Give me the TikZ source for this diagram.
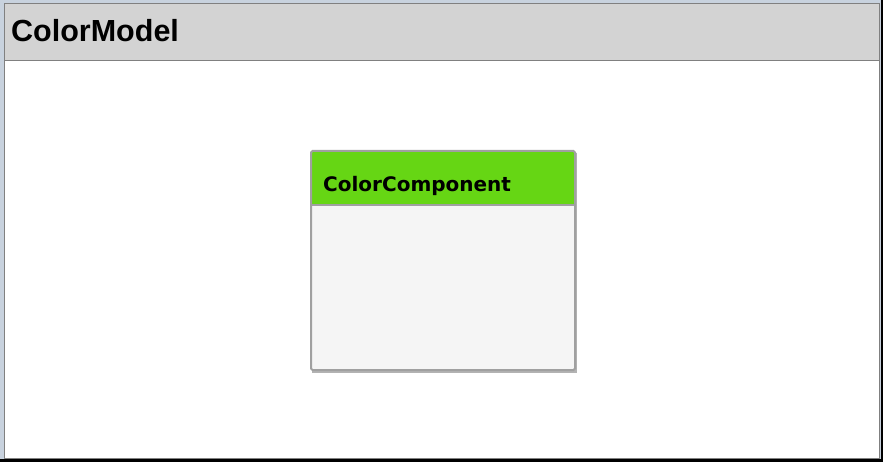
\documentclass[tikz,border=0pt]{standalone}
\usepackage{fontspec}
\setmainfont{Liberation Sans}
\newfontfamily\classfont{DejaVu Sans}
\definecolor{frameblue}{RGB}{200,210,222}
\definecolor{headgray}{RGB}{211,211,211}
\definecolor{linegray}{RGB}{160,160,160}
\definecolor{classgreen}{RGB}{102,214,20}
\definecolor{bodygray}{RGB}{245,245,245}
\tikzset{
  pkgtitle/.style={anchor=base west,inner sep=0pt,font=\fontsize{30.5}{32}\selectfont\bfseries},
  classtitle/.style={anchor=base west,inner sep=0pt,font=\classfont\fontsize{20}{22}\selectfont\bfseries},
  classline/.style={draw=linegray,line width=2pt}
}
\begin{document}
\begin{tikzpicture}[x=1pt,y=-1pt]
	\useasboundingbox (0,0) rectangle (883,462);
	\fill[black] (0,0) rectangle (883,462);
	\fill[frameblue] (0,0) rectangle (881,459);
	% package panel
	\filldraw[fill=white,draw=gray] (4.5,3.5) rectangle (879.5,458.5);
	\filldraw[fill=headgray,draw=gray] (4.5,3.5) rectangle (879.5,60);
	\node[pkgtitle] (model) at (11,42) {ColorModel};
	% class box
	\fill[linegray!80] (312,153) rectangle (577,373);
	\fill[bodygray] (311,151) rectangle (575,370);
	\fill[classgreen] (311,151) rectangle (575,205);
	\draw[classline] (311,205) -- (575,205);
	\draw[classline,rounded corners=1.5pt] (311,151) rectangle (575,370);
	\node[classtitle] (comp) at (323,191.5) {ColorComponent};
\end{tikzpicture}
\end{document}
